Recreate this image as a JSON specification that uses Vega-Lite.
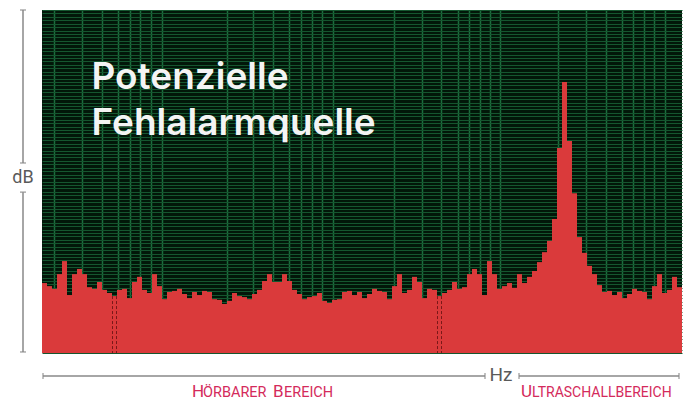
{
  "$schema": "https://vega.github.io/schema/vega-lite/v6.json",
  "width": 640,
  "height": 343,
  "autosize": {"type": "none"},
  "padding": {"left": 42, "top": 10, "right": 4, "bottom": 47},
  "background": "white",
  "config": {"view": {"stroke": null, "fill": "#021709"}},
  "resolve": {"axis": {"x": "independent", "y": "independent"}},
  "datasets": {
    "spektrum": [
      {"band": 0, "pegel": 20.4}, {"band": 1, "pegel": 19.5}, {"band": 2, "pegel": 18.7}, {"band": 3, "pegel": 23.0},
      {"band": 4, "pegel": 26.8}, {"band": 5, "pegel": 16.9}, {"band": 6, "pegel": 23.0}, {"band": 7, "pegel": 24.5},
      {"band": 8, "pegel": 23.0}, {"band": 9, "pegel": 19.2}, {"band": 10, "pegel": 18.7}, {"band": 11, "pegel": 20.7},
      {"band": 12, "pegel": 18.4}, {"band": 13, "pegel": 17.5}, {"band": 14, "pegel": 16.6, "markiert": true}, {"band": 15, "pegel": 18.4},
      {"band": 16, "pegel": 18.7}, {"band": 17, "pegel": 16.0}, {"band": 18, "pegel": 20.7}, {"band": 19, "pegel": 22.2},
      {"band": 20, "pegel": 18.4}, {"band": 21, "pegel": 17.5}, {"band": 22, "pegel": 23.0}, {"band": 23, "pegel": 19.5},
      {"band": 24, "pegel": 15.7}, {"band": 25, "pegel": 17.8}, {"band": 26, "pegel": 18.1}, {"band": 27, "pegel": 18.7},
      {"band": 28, "pegel": 17.2}, {"band": 29, "pegel": 16.0}, {"band": 30, "pegel": 17.8}, {"band": 31, "pegel": 16.9},
      {"band": 32, "pegel": 18.1}, {"band": 33, "pegel": 17.8}, {"band": 34, "pegel": 15.7}, {"band": 35, "pegel": 15.5},
      {"band": 36, "pegel": 14.3}, {"band": 37, "pegel": 15.2}, {"band": 38, "pegel": 17.5}, {"band": 39, "pegel": 16.6},
      {"band": 40, "pegel": 16.3}, {"band": 41, "pegel": 15.7}, {"band": 42, "pegel": 17.2}, {"band": 43, "pegel": 18.4},
      {"band": 44, "pegel": 21.0}, {"band": 45, "pegel": 23.0}, {"band": 46, "pegel": 20.7}, {"band": 47, "pegel": 20.7},
      {"band": 48, "pegel": 23.0}, {"band": 49, "pegel": 21.0}, {"band": 50, "pegel": 18.4}, {"band": 51, "pegel": 17.2},
      {"band": 52, "pegel": 15.7}, {"band": 53, "pegel": 16.3}, {"band": 54, "pegel": 16.6}, {"band": 55, "pegel": 17.5},
      {"band": 56, "pegel": 15.2}, {"band": 57, "pegel": 14.6}, {"band": 58, "pegel": 15.5}, {"band": 59, "pegel": 15.7},
      {"band": 60, "pegel": 17.8}, {"band": 61, "pegel": 18.1}, {"band": 62, "pegel": 16.9}, {"band": 63, "pegel": 17.8},
      {"band": 64, "pegel": 16.0}, {"band": 65, "pegel": 17.2}, {"band": 66, "pegel": 18.7}, {"band": 67, "pegel": 18.1},
      {"band": 68, "pegel": 17.8}, {"band": 69, "pegel": 15.7}, {"band": 70, "pegel": 19.5}, {"band": 71, "pegel": 23.0},
      {"band": 72, "pegel": 17.5}, {"band": 73, "pegel": 18.4}, {"band": 74, "pegel": 22.2}, {"band": 75, "pegel": 20.7},
      {"band": 76, "pegel": 16.0}, {"band": 77, "pegel": 18.7}, {"band": 78, "pegel": 18.4}, {"band": 79, "pegel": 16.6, "markiert": true},
      {"band": 80, "pegel": 17.5}, {"band": 81, "pegel": 18.4}, {"band": 82, "pegel": 20.7}, {"band": 83, "pegel": 18.7},
      {"band": 84, "pegel": 19.2}, {"band": 85, "pegel": 23.0}, {"band": 86, "pegel": 24.5}, {"band": 87, "pegel": 23.0},
      {"band": 88, "pegel": 16.9}, {"band": 89, "pegel": 26.8}, {"band": 90, "pegel": 23.0}, {"band": 91, "pegel": 18.7},
      {"band": 92, "pegel": 19.5}, {"band": 93, "pegel": 20.4}, {"band": 94, "pegel": 19.0}, {"band": 95, "pegel": 23.0},
      {"band": 96, "pegel": 20.4}, {"band": 97, "pegel": 22.2}, {"band": 98, "pegel": 23.9}, {"band": 99, "pegel": 26.5},
      {"band": 100, "pegel": 29.4}, {"band": 101, "pegel": 32.7}, {"band": 102, "pegel": 39.1}, {"band": 103, "pegel": 59.8},
      {"band": 104, "pegel": 79.0}, {"band": 105, "pegel": 61.8}, {"band": 106, "pegel": 46.6}, {"band": 107, "pegel": 33.8},
      {"band": 108, "pegel": 29.2}, {"band": 109, "pegel": 25.4}, {"band": 110, "pegel": 23.0}, {"band": 111, "pegel": 19.8},
      {"band": 112, "pegel": 17.8}, {"band": 113, "pegel": 18.1}, {"band": 114, "pegel": 16.9}, {"band": 115, "pegel": 17.8},
      {"band": 116, "pegel": 16.0}, {"band": 117, "pegel": 17.2}, {"band": 118, "pegel": 18.7}, {"band": 119, "pegel": 18.1},
      {"band": 120, "pegel": 17.8}, {"band": 121, "pegel": 15.7}, {"band": 122, "pegel": 19.5}, {"band": 123, "pegel": 23.0},
      {"band": 124, "pegel": 17.5}, {"band": 125, "pegel": 18.4}, {"band": 126, "pegel": 22.2}, {"band": 127, "pegel": 19.2}
    ]
  },
  "layer": [
    {
      "data": {"name": "spektrum"},
      "mark": {"type": "bar", "width": 5, "color": "#da3a3b"},
      "encoding": {
        "x": {
          "field": "band", "type": "quantitative",
          "scale": {"domain": [-0.5, 127.5], "nice": false, "zero": false, "padding": 0},
          "axis": {
            "values": [1.9, 7.5, 11.5, 14.7, 17.1, 19.1, 21.3, 23.5, 36.5, 41.7, 45.7, 48.9, 51.3, 53.5, 55.5, 57.7, 69.9, 75.5, 79.3, 82.7, 84.9, 87.1, 89.1, 91.1, 102.7, 108.3, 112.3, 115.5, 117.7, 119.9, 121.9, 124.1],
            "grid": true, "gridColor": "#1b6d3d", "gridWidth": 1.5, "gridOpacity": 1,
            "labels": false, "ticks": false, "domain": false, "title": null
          }
        },
        "y": {
          "field": "pegel", "type": "quantitative",
          "scale": {"domain": [0, 100], "nice": false, "padding": 0},
          "axis": {
            "tickCount": 100, "grid": true, "gridColor": "#15562f", "gridWidth": 1, "gridOpacity": 1,
            "labels": false, "ticks": false, "domain": false, "title": null
          }
        }
      }
    },
    {
      "data": {"name": "spektrum"},
      "transform": [{"filter": "datum.markiert === true"}],
      "mark": {"type": "rule", "color": "#7a1818", "strokeDash": [3, 2], "strokeWidth": 1, "xOffset": -2},
      "encoding": {
        "x": {"field": "band", "type": "quantitative", "axis": null},
        "y": {"field": "pegel", "type": "quantitative", "axis": null},
        "y2": {"datum": 0}
      }
    },
    {
      "data": {"name": "spektrum"},
      "transform": [{"filter": "datum.markiert === true"}],
      "mark": {"type": "rule", "color": "#7a1818", "strokeDash": [3, 2], "strokeWidth": 1, "xOffset": 2},
      "encoding": {
        "x": {"field": "band", "type": "quantitative", "axis": null},
        "y": {"field": "pegel", "type": "quantitative", "axis": null},
        "y2": {"datum": 0}
      }
    },
    {
      "data": {"values": [{}]},
      "mark": {"type": "text", "text": "Potenzielle", "align": "left", "baseline": "alphabetic", "font": "Inter", "fontWeight": 600, "fontSize": 37, "color": "#f4f4f4"},
      "encoding": {"x": {"datum": 9.4, "axis": null}, "y": {"datum": 77.0, "axis": null}}
    },
    {
      "data": {"values": [{}]},
      "mark": {"type": "text", "text": "Fehlalarmquelle", "align": "left", "baseline": "alphabetic", "font": "Inter", "fontWeight": 600, "fontSize": 37, "color": "#f4f4f4"},
      "encoding": {"x": {"datum": 9.4, "axis": null}, "y": {"datum": 63.6, "axis": null}}
    },
    {
      "data": {"values": [{}]},
      "mark": {"type": "rule", "color": "#888888", "strokeWidth": 1.5},
      "encoding": {"x": {"datum": -4.3, "axis": null}, "y": {"datum": 100, "axis": null}, "y2": {"datum": 55.4}}
    },
    {
      "data": {"values": [{}]},
      "mark": {"type": "rule", "color": "#888888", "strokeWidth": 1.5},
      "encoding": {"x": {"datum": -4.3, "axis": null}, "y": {"datum": 46.9, "axis": null}, "y2": {"datum": 0.3}}
    },
    {
      "data": {"values": [{"p": 100}, {"p": 55.4}, {"p": 46.9}, {"p": 0.3}]},
      "mark": {"type": "tick", "orient": "horizontal", "size": 6, "thickness": 1.5, "color": "#888888"},
      "encoding": {"x": {"datum": -4.3, "axis": null}, "y": {"field": "p", "type": "quantitative", "axis": null}}
    },
    {
      "data": {"values": [{}]},
      "mark": {"type": "text", "text": "dB", "align": "center", "baseline": "middle", "font": "Roboto", "fontSize": 18, "color": "#5a5a5a"},
      "encoding": {"x": {"datum": -4.3, "axis": null}, "y": {"datum": 51.0, "axis": null}}
    },
    {
      "data": {"values": [{}]},
      "mark": {"type": "rule", "color": "#888888", "strokeWidth": 1.5},
      "encoding": {"x": {"datum": -0.3, "axis": null}, "x2": {"datum": 88.1}, "y": {"datum": -6.7, "axis": null}}
    },
    {
      "data": {"values": [{}]},
      "mark": {"type": "rule", "color": "#888888", "strokeWidth": 1.5},
      "encoding": {"x": {"datum": 94.9, "axis": null}, "x2": {"datum": 126.9}, "y": {"datum": -6.7, "axis": null}}
    },
    {
      "data": {"values": [{"p": -0.3}, {"p": 88.1}, {"p": 94.9}, {"p": 126.9}]},
      "mark": {"type": "tick", "orient": "vertical", "size": 6, "thickness": 1.5, "color": "#888888"},
      "encoding": {"x": {"field": "p", "type": "quantitative", "axis": null}, "y": {"datum": -6.7, "axis": null}}
    },
    {
      "data": {"values": [{}]},
      "mark": {"type": "text", "text": "Hz", "align": "center", "baseline": "middle", "font": "Roboto", "fontSize": 19, "color": "#5a5a5a"},
      "encoding": {"x": {"datum": 91.3, "axis": null}, "y": {"datum": -6.4, "axis": null}}
    },
    {
      "data": {"values": [{}]},
      "mark": {"type": "text", "text": "H", "align": "left", "baseline": "alphabetic", "font": "Roboto", "fontSize": 17, "color": "#d42a5b"},
      "encoding": {"x": {"datum": 29.5, "axis": null}, "y": {"datum": -12.8, "axis": null}}
    },
    {
      "data": {"values": [{}]},
      "mark": {"type": "text", "text": "ÖRBARER", "align": "left", "baseline": "alphabetic", "font": "Roboto", "fontSize": 14.5, "color": "#d42a5b"},
      "encoding": {"x": {"datum": 31.7, "axis": null}, "y": {"datum": -12.8, "axis": null}}
    },
    {
      "data": {"values": [{}]},
      "mark": {"type": "text", "text": "B", "align": "left", "baseline": "alphabetic", "font": "Roboto", "fontSize": 17, "color": "#d42a5b"},
      "encoding": {"x": {"datum": 45.7, "axis": null}, "y": {"datum": -12.8, "axis": null}}
    },
    {
      "data": {"values": [{}]},
      "mark": {"type": "text", "text": "EREICH", "align": "left", "baseline": "alphabetic", "font": "Roboto", "fontSize": 14.5, "color": "#d42a5b"},
      "encoding": {"x": {"datum": 47.9, "axis": null}, "y": {"datum": -12.8, "axis": null}}
    },
    {
      "data": {"values": [{}]},
      "mark": {"type": "text", "text": "U", "align": "left", "baseline": "alphabetic", "font": "Roboto", "fontSize": 17, "color": "#d42a5b"},
      "encoding": {"x": {"datum": 95.3, "axis": null}, "y": {"datum": -12.8, "axis": null}}
    },
    {
      "data": {"values": [{}]},
      "mark": {"type": "text", "text": "LTRASCHALLBEREICH", "align": "left", "baseline": "alphabetic", "font": "Roboto", "fontSize": 14, "color": "#d42a5b"},
      "encoding": {"x": {"datum": 97.5, "axis": null}, "y": {"datum": -12.8, "axis": null}}
    }
  ]
}
